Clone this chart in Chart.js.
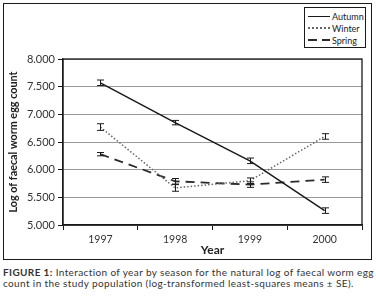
<!DOCTYPE html>
<html>
<head>
<meta charset="utf-8">
<script src="https://cdn.jsdelivr.net/npm/chart.js@4"></script>
<style>
  html, body { margin:0; padding:0; background:#fff; }
  body { width:376px; height:298px; position:relative; overflow:hidden; font-family: Lato, "Open Sans", sans-serif; }
  #frame { position:absolute; left:3px; top:3px; width:367px; height:255px; border:1.5px solid #1a1a1a; pointer-events:none; }
  #c { position:absolute; left:0; top:0; }
  #legend { position:absolute; left:304px; top:7px; width:60px; height:39px; border:1.3px solid #1a1a1a; background:#fff; font-size:9px; color:#222; }
  .li { position:absolute; left:3px; height:12px; display:flex; align-items:center; }
  .sw { width:22px; height:0; margin-right:2px; }
  #caption { position:absolute; left:3px; top:267px; width:373px; font-size:10px; letter-spacing:0.38px; line-height:11px; color:#333; white-space:nowrap; }
  #caption b { font-weight:bold; }
</style>
</head>
<body>
<canvas id="c" width="376" height="262"></canvas>
<div id="frame"></div>
<div id="legend"></div>
<div id="caption"><b>FIGURE 1:</b> Interaction of year by season for the natural log of faecal worm egg<br>count in the study population (log-transformed least-squares means ± SE).</div>
<script>
const years = ['1997', '1998', '1999', '2000'];
const seriesNames = ['Autumn', 'Winter', 'Spring'];
const autumn = [7.57, 6.85, 6.16, 5.26];
const winter = [6.77, 5.67, 5.80, 6.60];
const spring = [6.28, 5.79, 5.73, 5.82];
const autumnSE = [0.05, 0.04, 0.05, 0.05];
const winterSE = [0.06, 0.06, 0.05, 0.05];
const springSE = [0.03, 0.05, 0.05, 0.05];
const yTicks = [5.0, 5.5, 6.0, 6.5, 7.0, 7.5, 8.0];

const styles = [
  { color:'#1a1a1a', width:1.5, dash:[] },
  { color:'#666', width:1.5, dash:[1.5, 2] },
  { color:'#2a2a2a', width:1.8, dash:[9, 6] }
];
const values = [autumn, winter, spring];
const ses = [autumnSE, winterSE, springSE];

// HTML legend
const leg = document.getElementById('legend');
seriesNames.forEach((n, i) => {
  const d = document.createElement('div');
  d.className = 'li';
  d.style.top = (2 + i * 12) + 'px';
  const s = document.createElement('div');
  s.className = 'sw';
  const st = i === 0 ? 'solid' : (i === 1 ? 'dotted' : 'dashed');
  s.style.borderTop = (i === 0 ? 1.5 : 2) + 'px ' + st + ' ' + styles[i].color;
  if (i === 2) { s.style.borderTop = 'none'; s.style.height = '2px'; s.style.background = 'linear-gradient(90deg,#2a2a2a 0 9px,transparent 9px 14px,#2a2a2a 14px 22px)'; }
  d.appendChild(s);
  const t = document.createElement('span');
  t.textContent = n;
  d.appendChild(t);
  leg.appendChild(d);
});

const errorBars = {
  id: 'errorBars',
  afterDatasetsDraw(chart) {
    const ctx = chart.ctx, xs = chart.scales.x, ys = chart.scales.y;
    ctx.save();
    ctx.strokeStyle = '#1a1a1a';
    ctx.lineWidth = 1;
    ctx.setLineDash([]);
    values.forEach((arr, si) => {
      arr.forEach((v, i) => {
        const x = Math.round(xs.getPixelForValue(i)) + 0.5;
        const y1 = ys.getPixelForValue(v + ses[si][i]);
        const y2 = ys.getPixelForValue(v - ses[si][i]);
        ctx.beginPath();
        ctx.moveTo(x, y1); ctx.lineTo(x, y2);
        ctx.moveTo(x - 3.5, y1); ctx.lineTo(x + 3.5, y1);
        ctx.moveTo(x - 3.5, y2); ctx.lineTo(x + 3.5, y2);
        ctx.stroke();
      });
    });
    ctx.restore();
  }
};
const plotBorder = {
  id: 'plotBorder',
  beforeDatasetsDraw(chart) {
    const a = chart.chartArea, ctx = chart.ctx;
    ctx.save();
    ctx.strokeStyle = '#1a1a1a';
    ctx.lineWidth = 1.3;
    ctx.strokeRect(a.left, a.top, a.right - a.left, a.bottom - a.top);
    ctx.restore();
  }
};

new Chart(document.getElementById('c'), {
  type: 'line',
  data: {
    labels: years,
    datasets: seriesNames.map((n, i) => ({
      label: n,
      data: values[i],
      borderColor: styles[i].color,
      borderWidth: styles[i].width,
      borderDash: styles[i].dash,
      pointRadius: 0,
      tension: 0,
      fill: false
    }))
  },
  options: {
    responsive: false,
    animation: false,
    devicePixelRatio: 1,
    layout: { padding: { top: 59, right: 14, left: 0, bottom: 0 } },
    plugins: { legend: { display: false }, tooltip: { enabled: false } },
    scales: {
      x: {
        offset: true,
        grid: { offset: true, drawOnChartArea: false, drawTicks: true, tickLength: 5, color: '#1a1a1a', tickColor: '#1a1a1a' },
        border: { color: '#1a1a1a', width: 1.3 },
        ticks: { color: '#333', font: { family: 'Lato', size: 10.5 }, padding: 3, maxRotation: 0 },
        title: { display: true, text: 'Year', color: '#222', font: { family: 'Lato', size: 12, weight: 'bold' }, padding: { top: 0, bottom: 5 } },
        afterFit(s) { s.height = 37; }
      },
      y: {
        min: 5, max: 8,
        afterBuildTicks(s) { s.ticks = yTicks.map(v => ({ value: v })); },
        grid: { color: '#9a9a9a', lineWidth: 1, tickColor: '#1a1a1a', tickLength: 5 },
        border: { color: '#1a1a1a', width: 1.3 },
        ticks: { color: '#333', font: { family: 'Lato', size: 11 }, padding: 3, callback: v => Number(v).toFixed(3) },
        title: { display: true, text: 'Log of faecal worm egg count', color: '#222', font: { family: 'Lato', size: 10.8, weight: 'bold' }, padding: { top: 7, bottom: 0 } },
        afterFit(s) { s.width = 63; }
      }
    }
  },
  plugins: [plotBorder, errorBars]
});
</script>
</body>
</html>
